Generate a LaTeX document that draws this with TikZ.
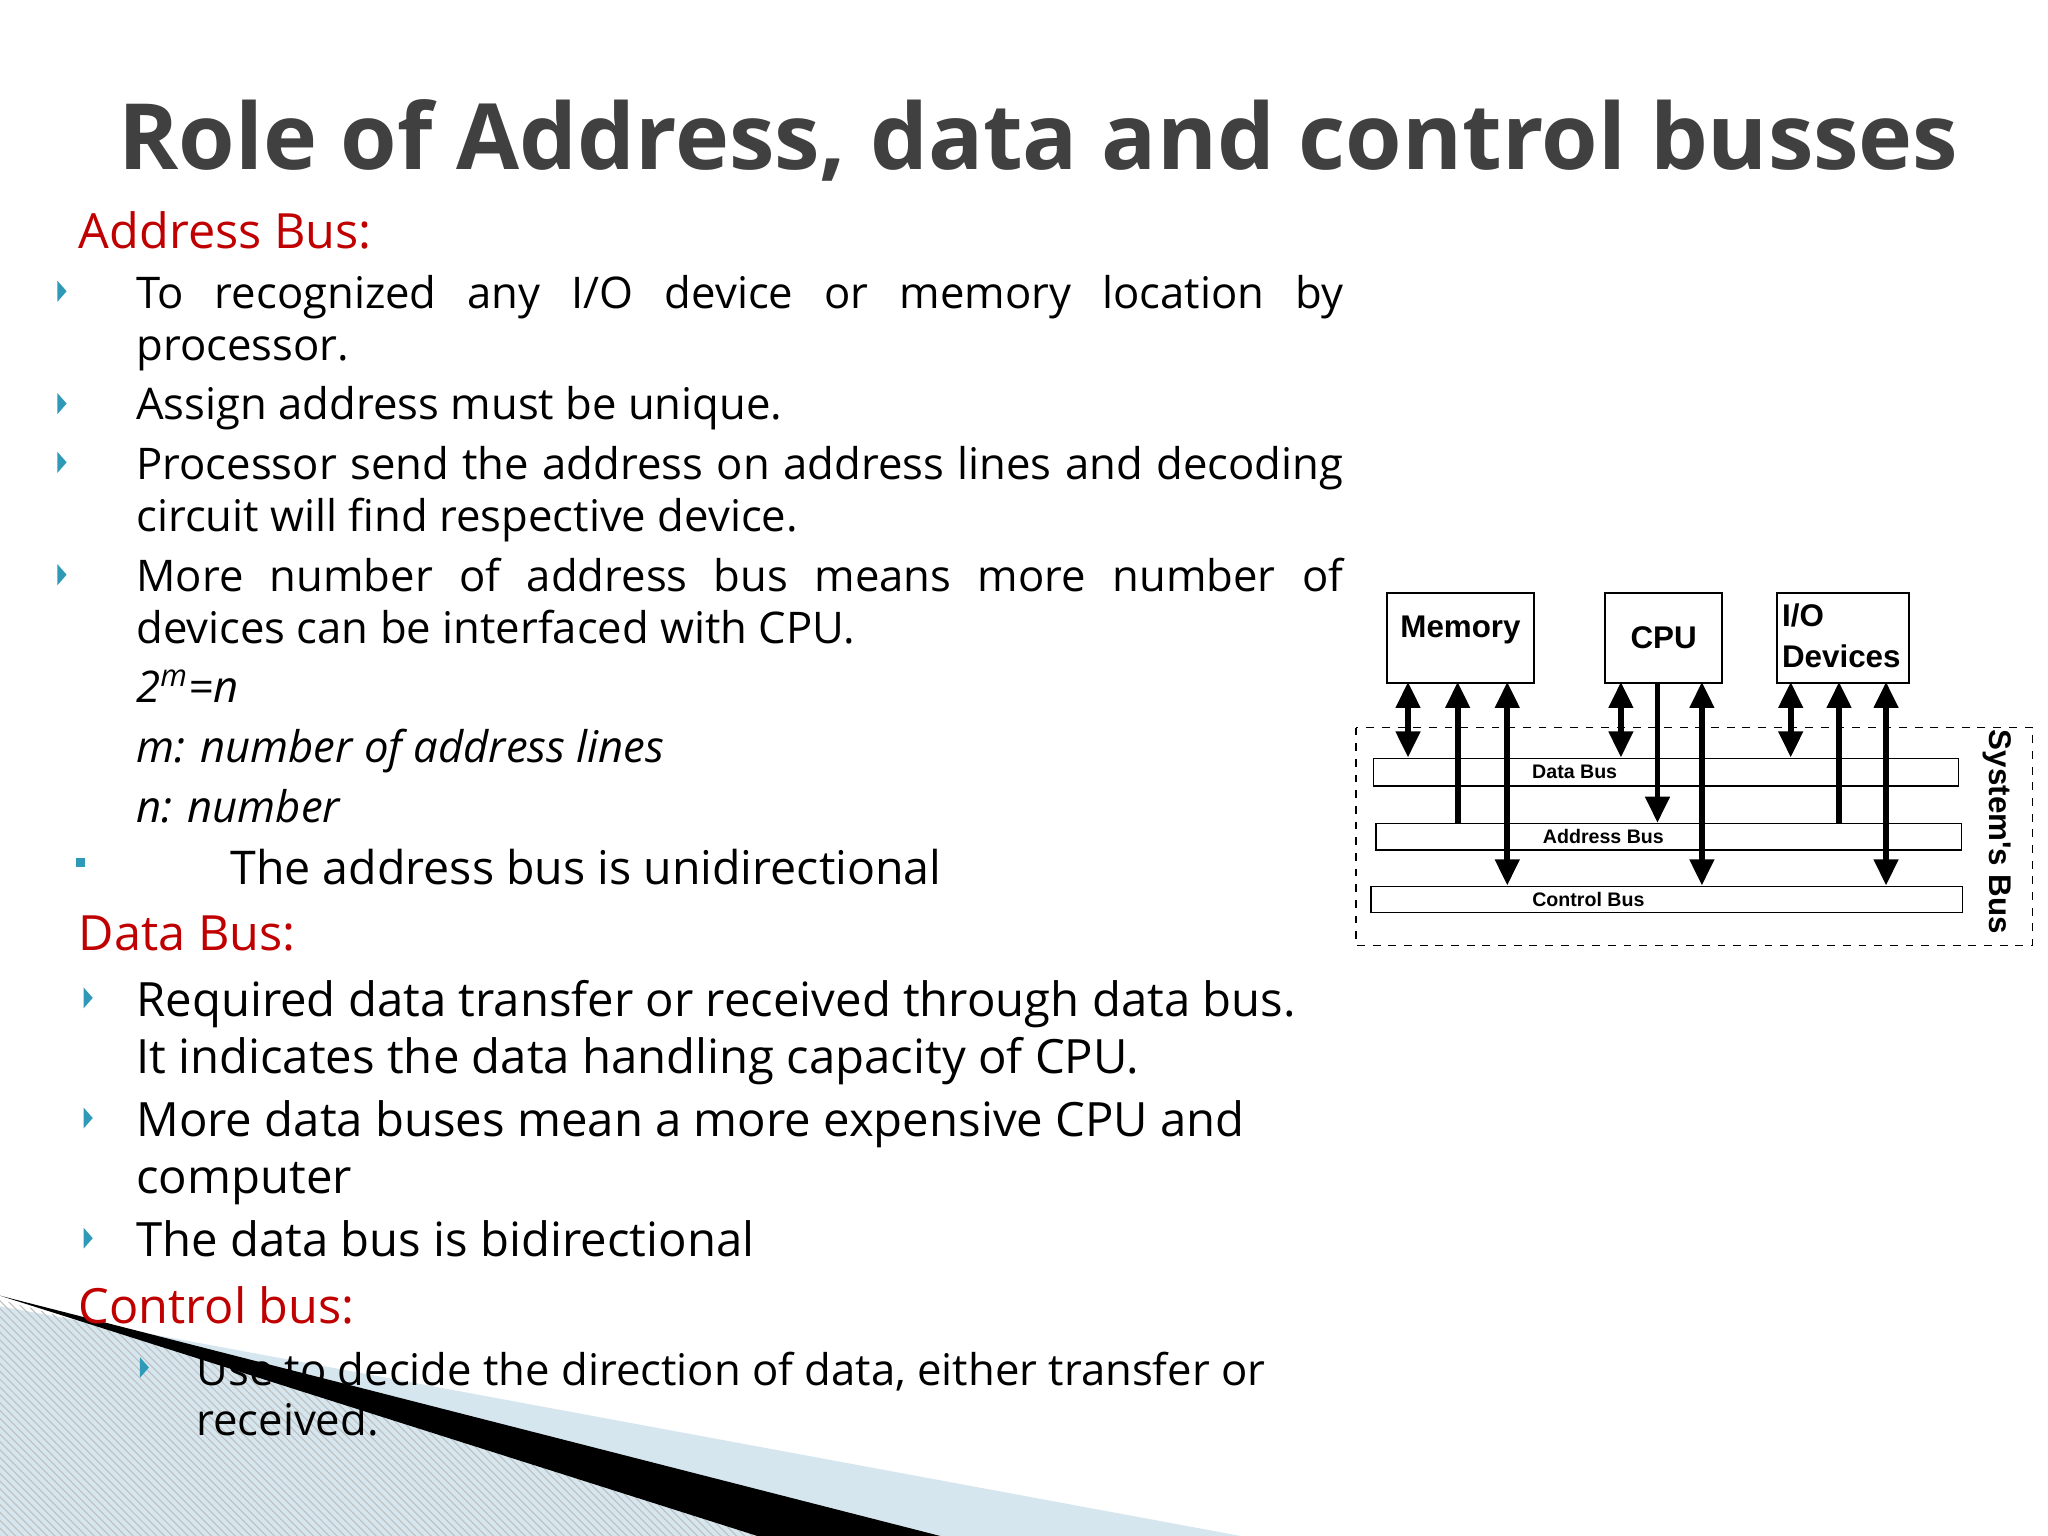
\documentclass[tikz,border=0pt]{standalone}
\usepackage{fontspec}
\setmainfont{Open Sans}
\newfontfamily\diag{Liberation Sans}
\usetikzlibrary{patterns,arrows.meta}
\definecolor{ttl}{HTML}{404040}
\definecolor{hd}{HTML}{C00000}
\definecolor{bul}{HTML}{2E9AB8}
\definecolor{lb}{HTML}{D6E6EE}
\begin{document}
\begin{tikzpicture}[x=0.5pt,y=-0.5pt,
  t/.style={anchor=base west,inner sep=0pt,font=\fontsize{16.7}{18}\selectfont},
  td/.style={anchor=base west,inner sep=0pt,font=\fontsize{18.1}{19}\selectfont},
  h/.style={anchor=base west,inner sep=0pt,text=hd,font=\fontsize{18.6}{20}\selectfont},
  box/.style={draw,line width=0.7pt,inner sep=0pt},
  bus/.style={draw,line width=0.6pt,inner sep=0pt,font=\diag\bfseries\fontsize{7.5}{8}\selectfont},
  ar/.style={line width=2.2pt,-{Triangle[length=10pt,width=9pt]}},
  dar/.style={line width=2.2pt,{Triangle[length=10pt,width=9pt]}-{Triangle[length=10pt,width=9pt]}}]
\useasboundingbox (0,0) rectangle (1568,1176);
\fill[white] (0,0) rectangle (1568,1176);
% bottom-left decoration
\fill[lb] (0,1000) -- (950,1176) -- (0,1176) -- cycle;
\fill[pattern=north west lines,pattern color=gray!50] (0,995) -- (660,1176) -- (0,1176) -- cycle;
\fill[black] (0,992) -- (720,1176) -- (580,1176) -- cycle;
% title
\node[anchor=base,inner sep=0pt,text=ttl,font=\bfseries\fontsize{35}{40}\selectfont] (title) at (795,130) {Role of Address, data and control busses};
% address bus
\node[h] (ah) at (60,190) {Address Bus:};
\foreach \y in {223,309,354,440} \fill[bul] (44,\y-8) -- (51,\y) -- (44,\y+8) -- cycle;
\node[t] (a1) at (104,236) {\makebox[462pt][s]{To recognized any I/O device or memory location by}};
\node[t] (a1b) at (104,276) {processor.};
\node[t] (a2) at (104,321) {Assign address must be unique.};
\node[t] (a3) at (104,367) {\makebox[462pt][s]{Processor send the address on address lines and decoding}};
\node[t] (a3b) at (104,407) {circuit will find respective device.};
\node[t] (a4) at (104,453) {\makebox[462pt][s]{More number of address bus means more number of}};
\node[t] (a4b) at (104,493) {devices can be interfaced with CPU.};
\node[t] (f1) at (104,538) {\itshape 2\textsuperscript{m}=n};
\node[t] (f2) at (104,584) {\itshape m: number of address lines};
\node[t] (f3) at (104,630) {\itshape n: number};
\fill[bul] (58,657) rectangle (65,664);
\node[td,font=\fontsize{17.8}{19}\selectfont] (a5) at (176,677) {The address bus is unidirectional};
% data bus
\node[h] (dh) at (60,728) {Data Bus:};
\foreach \y in {764,856,948} \fill[bul] (64,\y-8) -- (71,\y) -- (64,\y+8) -- cycle;
\node[td] (d1) at (104,778) {Required data transfer or received through data bus.};
\node[td] (d1b) at (104,822) {It indicates the data handling capacity of CPU.};
\node[td] (d2) at (104,870) {More data buses mean a more expensive CPU and};
\node[td] (d2b) at (104,914) {computer};
\node[td] (d3) at (104,962) {The data bus is bidirectional};
% control
\node[h] (ch) at (60,1013) {Control bus:};
\fill[bul] (107,1039) -- (114,1047) -- (107,1055) -- cycle;
\node[t] (c1) at (150,1061) {Use to decide the direction of data, either transfer or};
\node[t] (c1b) at (150,1099) {received.};
% diagram
\draw[dashed,line width=0.6pt] (1038,557) rectangle (1556,724);
\node[box,minimum width=56.5pt,minimum height=34.5pt,font=\diag\bfseries\fontsize{12}{13}\selectfont,anchor=north west] (mem) at (1061,453) {\raisebox{8pt}{Memory}};
\node[box,minimum width=45pt,minimum height=34.5pt,font=\diag\bfseries\fontsize{12}{13}\selectfont,anchor=north west] (cpu) at (1228,453) {CPU};
\node[box,minimum width=50.5pt,minimum height=34.5pt,anchor=north west] (io) at (1360,453) {};
\node[anchor=north west,inner sep=0pt,font=\diag\bfseries\fontsize{12}{15.5}\selectfont,align=left] (iot) at (1364,462) {I/O\\Devices};
\node[bus,minimum width=224pt,minimum height=10.5pt,anchor=north west] (db) at (1051,580) {\hspace{-70pt}Data Bus};
\node[bus,minimum width=224pt,minimum height=10pt,anchor=north west] (ab) at (1053,630) {\hspace{-50pt}Address Bus};
\node[bus,minimum width=226.5pt,minimum height=10pt,anchor=north west] (cb) at (1049,678) {\hspace{-60pt}Control Bus};
\node[rotate=-90,inner sep=0pt,font=\diag\bfseries\fontsize{12}{13}\selectfont] (sb) at (1529,637) {System's Bus};
\draw[dar] (1078,522) -- (1078,580);
\draw[ar] (1116,630) -- (1116,522);
\draw[dar] (1154,522) -- (1154,678);
\draw[dar] (1241,522) -- (1241,580);
\draw[ar] (1269,522) -- (1269,630);
\draw[dar] (1303,522) -- (1303,678);
\draw[dar] (1371,522) -- (1371,580);
\draw[ar] (1408,630) -- (1408,522);
\draw[dar] (1444,522) -- (1444,678);
\end{tikzpicture}
\end{document}
